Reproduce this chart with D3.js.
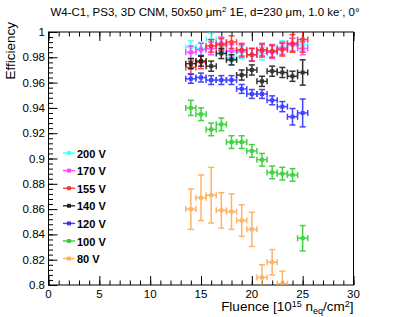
<!DOCTYPE html>
<meta charset="utf-8">
<body style="margin:0;background:#fff">
<script src="https://d3js.org/d3.v7.min.js"></script>
<script>
var width = 409, height = 317;

// fluence points [1e15 neq/cm2]
var fluence = [14, 15, 16, 17, 18, 19, 20, 21, 22, 23, 24, 25];
var fluence80 = [14, 15, 16, 17, 18, 19, 20, 21, 22, 23];

var voltages = ["200 V", "170 V", "155 V", "140 V", "120 V", "100 V", "80 V"];

var eff200 = [0.988, 0.987, 0.994, 0.989, 0.979, 0.984, 0.982, 0.983, 0.985, 0.988, 0.990, 0.990];
var eff170 = [0.984, 0.986, 0.987, 0.991, 0.985, 0.985, 0.982, 0.985, 0.984, 0.987, 0.990, 0.987];
var eff155 = [0.972, 0.976, 0.989, 0.990, 0.992, 0.986, 0.982, 0.986, 0.985, 0.986, 0.991, 0.994];
var eff140 = [0.975, 0.977, 0.973, 0.983, 0.978, 0.966, 0.970, 0.961, 0.969, 0.968, 0.965, 0.968];
var eff120 = [0.963, 0.964, 0.962, 0.962, 0.962, 0.955, 0.951, 0.951, 0.946, 0.941, 0.933, 0.936];
var eff100 = [0.940, 0.935, 0.923, 0.927, 0.913, 0.913, 0.906, 0.899, 0.889, 0.888, 0.887, 0.837];
var eff80  = [0.860, 0.869, 0.871, 0.859, 0.858, 0.851, 0.844, 0.806, 0.818, 0.801];

var err200 = [0.005, 0.005, 0.005, 0.005, 0.005, 0.005, 0.005, 0.005, 0.005, 0.005, 0.005, 0.005];
var err170 = [0.005, 0.005, 0.005, 0.005, 0.005, 0.005, 0.005, 0.005, 0.005, 0.005, 0.005, 0.005];
var err155 = [0.005, 0.005, 0.005, 0.005, 0.005, 0.005, 0.005, 0.005, 0.005, 0.005, 0.007, 0.01];
var err140 = [0.004, 0.004, 0.004, 0.004, 0.004, 0.004, 0.004, 0.004, 0.004, 0.004, 0.004, 0.01];
var err120 = [0.0035, 0.0035, 0.0035, 0.0035, 0.0035, 0.0035, 0.0035, 0.0035, 0.0035, 0.004, 0.0065, 0.011];
var err100 = [0.006, 0.005, 0.005, 0.005, 0.005, 0.005, 0.005, 0.005, 0.005, 0.005, 0.005, 0.01];
var err80  = [0.016, 0.018, 0.022, 0.014, 0.014, 0.0125, 0.0135, 0.01, 0.01, 0.01];
var xerr = 0.5;

var colors = ["#33ffff", "#ff33ff", "#ff2222", "#111111", "#2222ff", "#22cc22", "#ffa64d"];

var series = [
  {name: voltages[0], x: fluence, y: eff200, e: err200, c: colors[0]},
  {name: voltages[1], x: fluence, y: eff170, e: err170, c: colors[1]},
  {name: voltages[2], x: fluence, y: eff155, e: err155, c: colors[2]},
  {name: voltages[3], x: fluence, y: eff140, e: err140, c: colors[3]},
  {name: voltages[4], x: fluence, y: eff120, e: err120, c: colors[4]},
  {name: voltages[5], x: fluence, y: eff100, e: err100, c: colors[5]},
  {name: voltages[6], x: fluence80, y: eff80, e: err80, c: colors[6]}
];

var fL = 48.5, fR = 353.5, fT = 32, fB = 285;

var x = d3.scaleLinear().domain([0, 30]).range([fL, fR]);
var y = d3.scaleLinear().domain([0.8, 1]).range([fB, fT]);

var svg = d3.select("body").append("svg")
    .attr("width", width)
    .attr("height", height)
    .style("font-family", "'Liberation Sans', Arial, sans-serif");

svg.append("rect").attr("width", width).attr("height", height).attr("fill", "#fff");

// clip for data
svg.append("clipPath").attr("id", "clip")
  .append("rect").attr("x", fL).attr("y", fT).attr("width", fR - fL).attr("height", fB - fT);

// ticks
var xMajor = d3.range(0, 30.001, 5), xMinor = d3.range(0, 30.001, 1);
var yMajor = y.ticks(10), yMinor = d3.range(0.8, 1.0001, 0.004);

function tickAxis(axis, vals, size, tr) {
  var g = svg.append("g").attr("transform", tr)
    .call(axis.tickValues(vals).tickSize(size).tickFormat(""));
  g.select(".domain").remove();
  g.selectAll("line").attr("stroke", "#000").attr("stroke-width", 1);
  return g;
}
tickAxis(d3.axisBottom(x), xMinor, -4.5, "translate(0," + fB + ")");
tickAxis(d3.axisBottom(x), xMajor, -9, "translate(0," + fB + ")");
tickAxis(d3.axisTop(x), xMinor, -4.5, "translate(0," + fT + ")");
tickAxis(d3.axisTop(x), xMajor, -9, "translate(0," + fT + ")");
tickAxis(d3.axisLeft(y), yMinor, -4.5, "translate(" + fL + ",0)");
tickAxis(d3.axisLeft(y), yMajor, -9, "translate(" + fL + ",0)");

svg.append("rect")
  .attr("x", fL).attr("y", fT)
  .attr("width", fR - fL).attr("height", fB - fT)
  .attr("fill", "none").attr("stroke", "#000").attr("stroke-width", 1);

// tick labels
svg.selectAll(".xl").data(xMajor).enter().append("text")
  .attr("x", function(d) { return x(d); })
  .attr("y", 297.5)
  .attr("text-anchor", "middle")
  .attr("font-size", "11.5px")
  .text(function(d) { return d; });

svg.selectAll(".yl").data(yMajor).enter().append("text")
  .attr("x", 45)
  .attr("y", function(d) { return y(d) + 4; })
  .attr("text-anchor", "end")
  .attr("font-size", "11.5px")
  .text(function(d) { return d3.format("~g")(+d.toFixed(2)); });

// axis titles
var xt = svg.append("text")
  .attr("x", fR).attr("y", 311)
  .attr("text-anchor", "end")
  .attr("font-size", "13.5px");
xt.append("tspan").text("Fluence [10");
xt.append("tspan").attr("dy", -4.5).attr("font-size", "9px").text("15");
xt.append("tspan").attr("dy", 4.5).text(" n");
xt.append("tspan").attr("dy", 3).attr("font-size", "9px").text("eq");
xt.append("tspan").attr("dy", -3).text("/cm");
xt.append("tspan").attr("dy", -4.5).attr("font-size", "9px").text("2");
xt.append("tspan").attr("dy", 4.5).text("]");

svg.append("text")
  .attr("transform", "translate(15,22) rotate(-90)")
  .attr("text-anchor", "end")
  .attr("font-size", "13.5px")
  .text("Efficiency");

// title
var tt = svg.append("text")
  .attr("x", 205).attr("y", 16)
  .attr("text-anchor", "middle")
  .attr("font-size", "11.5px");
tt.append("tspan").text("W4-C1, PS3, 3D CNM, 50x50 \u03bcm");
tt.append("tspan").attr("dy", -4).attr("font-size", "8px").text("2");
tt.append("tspan").attr("dy", 4).text(" 1E, d=230 \u03bcm, 1.0 ke");
tt.append("tspan").attr("dy", -4).attr("font-size", "8px").text("-");
tt.append("tspan").attr("dy", 4).text(", 0\u00b0");

// data
var plot = svg.append("g").attr("clip-path", "url(#clip)");
var cap = 3;

series.forEach(function(s) {
  var pts = s.x.map(function(fx, i) { return {fx: fx, fy: s.y[i], e: s.e[i]}; });
  var g = plot.append("g").attr("stroke", s.c).attr("fill", s.c).attr("opacity", 0.85);
  var p = g.selectAll("g").data(pts).enter().append("g");
  p.append("line").attr("stroke-width", 1.5)
    .attr("x1", function(d) { return x(d.fx - xerr); })
    .attr("x2", function(d) { return x(d.fx + xerr); })
    .attr("y1", function(d) { return y(d.fy); })
    .attr("y2", function(d) { return y(d.fy); });
  p.append("line").attr("stroke-width", 1.5)
    .attr("x1", function(d) { return x(d.fx); })
    .attr("x2", function(d) { return x(d.fx); })
    .attr("y1", function(d) { return y(d.fy - d.e); })
    .attr("y2", function(d) { return y(d.fy + d.e); });
  [-1, 1].forEach(function(sg) {
    p.append("line").attr("stroke-width", 1.5)
      .attr("x1", function(d) { return x(d.fx) - cap; })
      .attr("x2", function(d) { return x(d.fx) + cap; })
      .attr("y1", function(d) { return y(d.fy + sg * d.e); })
      .attr("y2", function(d) { return y(d.fy + sg * d.e); });
    p.append("line").attr("stroke-width", 1.5)
      .attr("x1", function(d) { return x(d.fx + sg * xerr); })
      .attr("x2", function(d) { return x(d.fx + sg * xerr); })
      .attr("y1", function(d) { return y(d.fy) - cap; })
      .attr("y2", function(d) { return y(d.fy) + cap; });
  });
  p.append("rect").attr("stroke", "none")
    .attr("x", function(d) { return x(d.fx) - 2; })
    .attr("y", function(d) { return y(d.fy) - 2; })
    .attr("width", 4).attr("height", 4);
});

// legend
var leg = svg.append("g").selectAll("g").data(series).enter().append("g")
  .attr("transform", function(d, i) { return "translate(63," + (153 + i * 17.6) + ")"; });
leg.append("line").attr("x1", 0).attr("x2", 12).attr("y1", 0).attr("y2", 0)
  .attr("stroke", function(d) { return d.c; }).attr("stroke-width", 1.5).attr("opacity", 0.85);
leg.append("rect").attr("x", 4).attr("y", -2).attr("width", 4).attr("height", 4)
  .attr("fill", function(d) { return d.c; }).attr("opacity", 0.85);
leg.append("text").attr("x", 14).attr("y", 4.5)
  .attr("font-size", "11px").attr("font-weight", "bold")
  .text(function(d) { return d.name; });
</script>
</body>
